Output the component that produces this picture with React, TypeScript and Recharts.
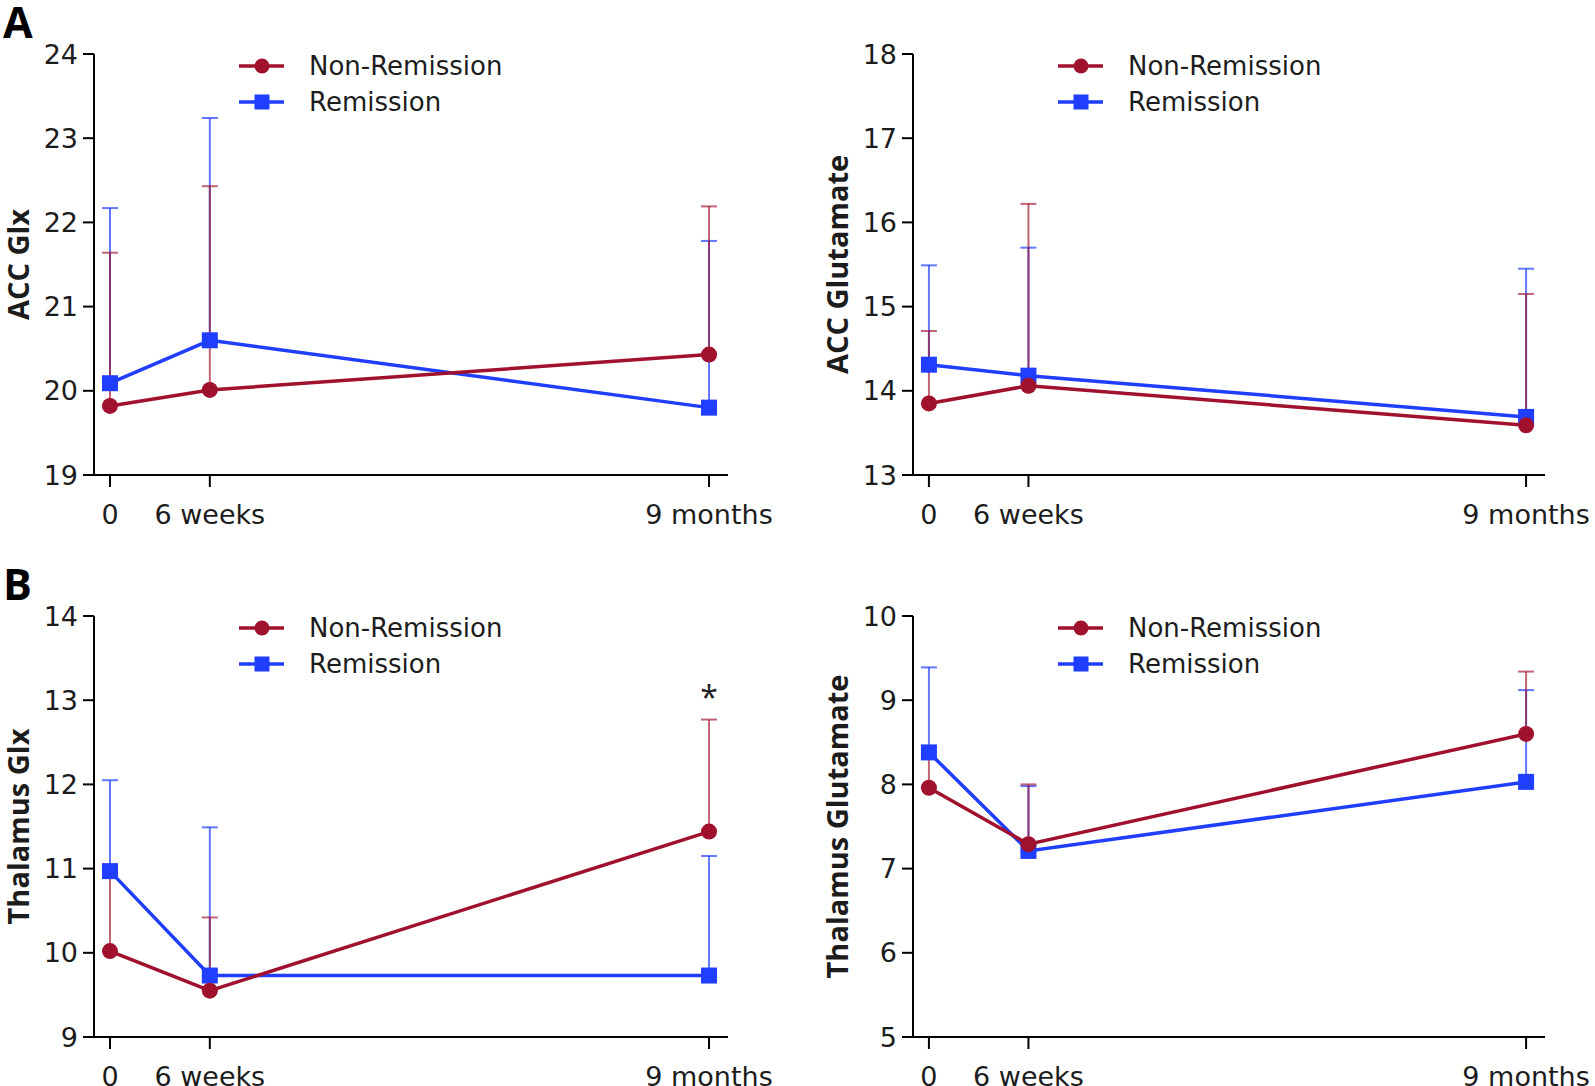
import React from 'react';
import { LineChart, Line, XAxis, YAxis, ErrorBar, Legend, ReferenceDot, Label } from 'recharts';

// ---- data ----
const timepoints = [0, 1.5, 9];
const xTickLabels = ['0', '6 weeks', '9 months'];
const seriesNames = ['Non-Remission', 'Remission'];

const accGlxNonRemission = [19.82, 20.01, 20.43];
const accGlxNonRemissionSD = [1.82, 2.42, 1.76];
const accGlxRemission = [20.09, 20.6, 19.8];
const accGlxRemissionSD = [2.08, 2.64, 1.98];
const accGlxTicks = [19, 20, 21, 22, 23, 24];

const accGluNonRemission = [13.85, 14.06, 13.59];
const accGluNonRemissionSD = [0.86, 2.16, 1.56];
const accGluRemission = [14.31, 14.18, 13.69];
const accGluRemissionSD = [1.18, 1.52, 1.76];
const accGluTicks = [13, 14, 15, 16, 17, 18];

const thalGlxNonRemission = [10.02, 9.55, 11.44];
const thalGlxNonRemissionSD = [1.0, 0.87, 1.33];
const thalGlxRemission = [10.97, 9.73, 9.73];
const thalGlxRemissionSD = [1.08, 1.76, 1.42];
const thalGlxTicks = [9, 10, 11, 12, 13, 14];
const thalGlxSignificance = [{ t: 9, y: 13.03, label: '*' }];

const thalGluNonRemission = [7.96, 7.29, 8.6];
const thalGluNonRemissionSD = [0.37, 0.71, 0.74];
const thalGluRemission = [8.38, 7.21, 8.03];
const thalGluRemissionSD = [1.01, 0.77, 1.09];
const thalGluTicks = [5, 6, 7, 8, 9, 10];

const RED = '#A0112D';
const BLUE = '#1F3EFF';
const FONT = '"DejaVu Sans", "Open Sans", sans-serif';
const TITLE_FONT = '"Open Sans", "Noto Sans", sans-serif';
const TEXT = '#1c1c1c';

function buildData(nr: number[], nrSD: number[], r: number[], rSD: number[]) {
  return timepoints.map((t, i) => ({
    t,
    nr: nr[i],
    nrErr: [0, nrSD[i]],
    r: r[i],
    rErr: [0, rSD[i]],
  }));
}

const SquareDot = (props: any) => {
  const { cx, cy, key } = props;
  if (cx == null || cy == null) return null;
  return <rect key={key} x={cx - 8} y={cy - 8} width={16} height={16} fill={BLUE} />;
};

const CircleDot = (props: any) => {
  const { cx, cy, key } = props;
  if (cx == null || cy == null) return null;
  return <circle key={key} cx={cx} cy={cy} r={8} fill={RED} />;
};

const LegendContent = () => (
  <div style={{ fontFamily: FONT }}>
    {seriesNames.map((name) => {
      const color = name === 'Remission' ? BLUE : RED;
      return (
        <div key={name} style={{ display: 'flex', alignItems: 'center', height: 36 }}>
          <svg width={46} height={20} style={{ display: 'block' }}>
            <line x1={0} y1={10} x2={45} y2={10} stroke={color} strokeWidth={3.5} />
            {name === 'Remission' ? (
              <rect x={15.5} y={2.5} width={15} height={15} fill={color} />
            ) : (
              <circle cx={23} cy={10} r={7.5} fill={color} />
            )}
          </svg>
          <span style={{ marginLeft: 24, fontSize: 26, color: TEXT, lineHeight: '36px', whiteSpace: 'nowrap' }}>
            {name}
          </span>
        </div>
      );
    })}
  </div>
);

type PanelProps = {
  left: number;
  top: number;
  width: number;
  rightMargin: number;
  title: string;
  ticks: number[];
  data: any[];
  significance?: { t: number; y: number; label: string }[];
};

const Panel = ({ left, top, width, rightMargin, title, ticks, data, significance }: PanelProps) => (
  <div style={{ position: 'absolute', left, top }}>
    <LineChart
      width={width}
      height={560}
      data={data}
      margin={{ top: 54, right: rightMargin, bottom: 25, left: 0 }}
    >
      <XAxis
        dataKey="t"
        type="number"
        domain={[-0.24, 9.285]}
        ticks={timepoints}
        tickFormatter={(v: number) => xTickLabels[timepoints.indexOf(v)]}
        stroke="#000"
        strokeWidth={2}
        tickSize={12}
        tickMargin={18}
        tick={{ fontSize: 27, fill: TEXT, fontFamily: FONT }}
        height={60}
        allowDataOverflow
      />
      <YAxis
        type="number"
        domain={[ticks[0], ticks[ticks.length - 1]]}
        ticks={ticks}
        stroke="#000"
        strokeWidth={2}
        tickSize={11}
        tickMargin={5}
        width={94}
        tick={{ fontSize: 27, fill: TEXT, fontFamily: FONT }}
        allowDataOverflow
      >
        <Label
          content={(p: any) => {
            const vb = p.viewBox || {};
            const bx = (vb.x || 0) + 29;
            const cy = (vb.y || 0) + (vb.height || 0) / 2;
            return (
              <text
                x={bx}
                y={cy}
                transform={`rotate(-90, ${bx}, ${cy})`}
                textAnchor="middle"
                fontSize={29}
                fontWeight="bold"
                fontFamily={TITLE_FONT}
                fill={TEXT}
              >
                {title}
              </text>
            );
          }}
        />
      </YAxis>
      <Legend
        verticalAlign="middle"
        align="center"
        layout="vertical"
        content={<LegendContent />}
        wrapperStyle={{ position: 'absolute', left: 239, top: 48, width: 'auto', height: 'auto' }}
      />
      <Line
        dataKey="r"
        name="Remission"
        stroke={BLUE}
        strokeWidth={3.5}
        dot={SquareDot}
        activeDot={false}
        isAnimationActive={false}
      >
        <ErrorBar dataKey="rErr" direction="y" width={8} stroke={BLUE} strokeOpacity={0.7} strokeWidth={2} />
      </Line>
      <Line
        dataKey="nr"
        name="Non-Remission"
        stroke={RED}
        strokeWidth={3.5}
        dot={CircleDot}
        activeDot={false}
        isAnimationActive={false}
      >
        <ErrorBar dataKey="nrErr" direction="y" width={8} stroke={RED} strokeOpacity={0.65} strokeWidth={2} />
      </Line>
      {(significance || []).map((s, i) => (
        <ReferenceDot
          key={i}
          x={s.t}
          y={s.y}
          r={0}
          fill="none"
          stroke="none"
          label={{ value: s.label, position: 'center', fontSize: 32, fill: TEXT, fontFamily: TITLE_FONT }}
        />
      ))}
    </LineChart>
  </div>
);

export default function App() {
  return (
    <div
      style={{
        position: 'absolute',
        left: 0,
        top: 0,
        width: 1595,
        height: 1086,
        overflow: 'hidden',
        background: '#fff',
        fontFamily: FONT,
      }}
    >
      <div
        style={{
          position: 'absolute',
          left: 3,
          top: 0,
          fontSize: 43,
          lineHeight: 1,
          fontWeight: 'bold',
          color: '#000',
          fontFamily: TITLE_FONT,
        }}
      >
        A
      </div>
      <div
        style={{
          position: 'absolute',
          left: 3,
          top: 562,
          fontSize: 43,
          lineHeight: 1,
          fontWeight: 'bold',
          color: '#000',
          fontFamily: TITLE_FONT,
        }}
      >
        B
      </div>
      <Panel
        left={0}
        top={0}
        width={800}
        rightMargin={72}
        title="ACC Glx"
        ticks={accGlxTicks}
        data={buildData(accGlxNonRemission, accGlxNonRemissionSD, accGlxRemission, accGlxRemissionSD)}
      />
      <Panel
        left={819}
        top={0}
        width={776}
        rightMargin={50}
        title="ACC Glutamate"
        ticks={accGluTicks}
        data={buildData(accGluNonRemission, accGluNonRemissionSD, accGluRemission, accGluRemissionSD)}
      />
      <Panel
        left={0}
        top={562}
        width={800}
        rightMargin={72}
        title="Thalamus Glx"
        ticks={thalGlxTicks}
        data={buildData(thalGlxNonRemission, thalGlxNonRemissionSD, thalGlxRemission, thalGlxRemissionSD)}
        significance={thalGlxSignificance}
      />
      <Panel
        left={819}
        top={562}
        width={776}
        rightMargin={50}
        title="Thalamus Glutamate"
        ticks={thalGluTicks}
        data={buildData(thalGluNonRemission, thalGluNonRemissionSD, thalGluRemission, thalGluRemissionSD)}
      />
    </div>
  );
}
